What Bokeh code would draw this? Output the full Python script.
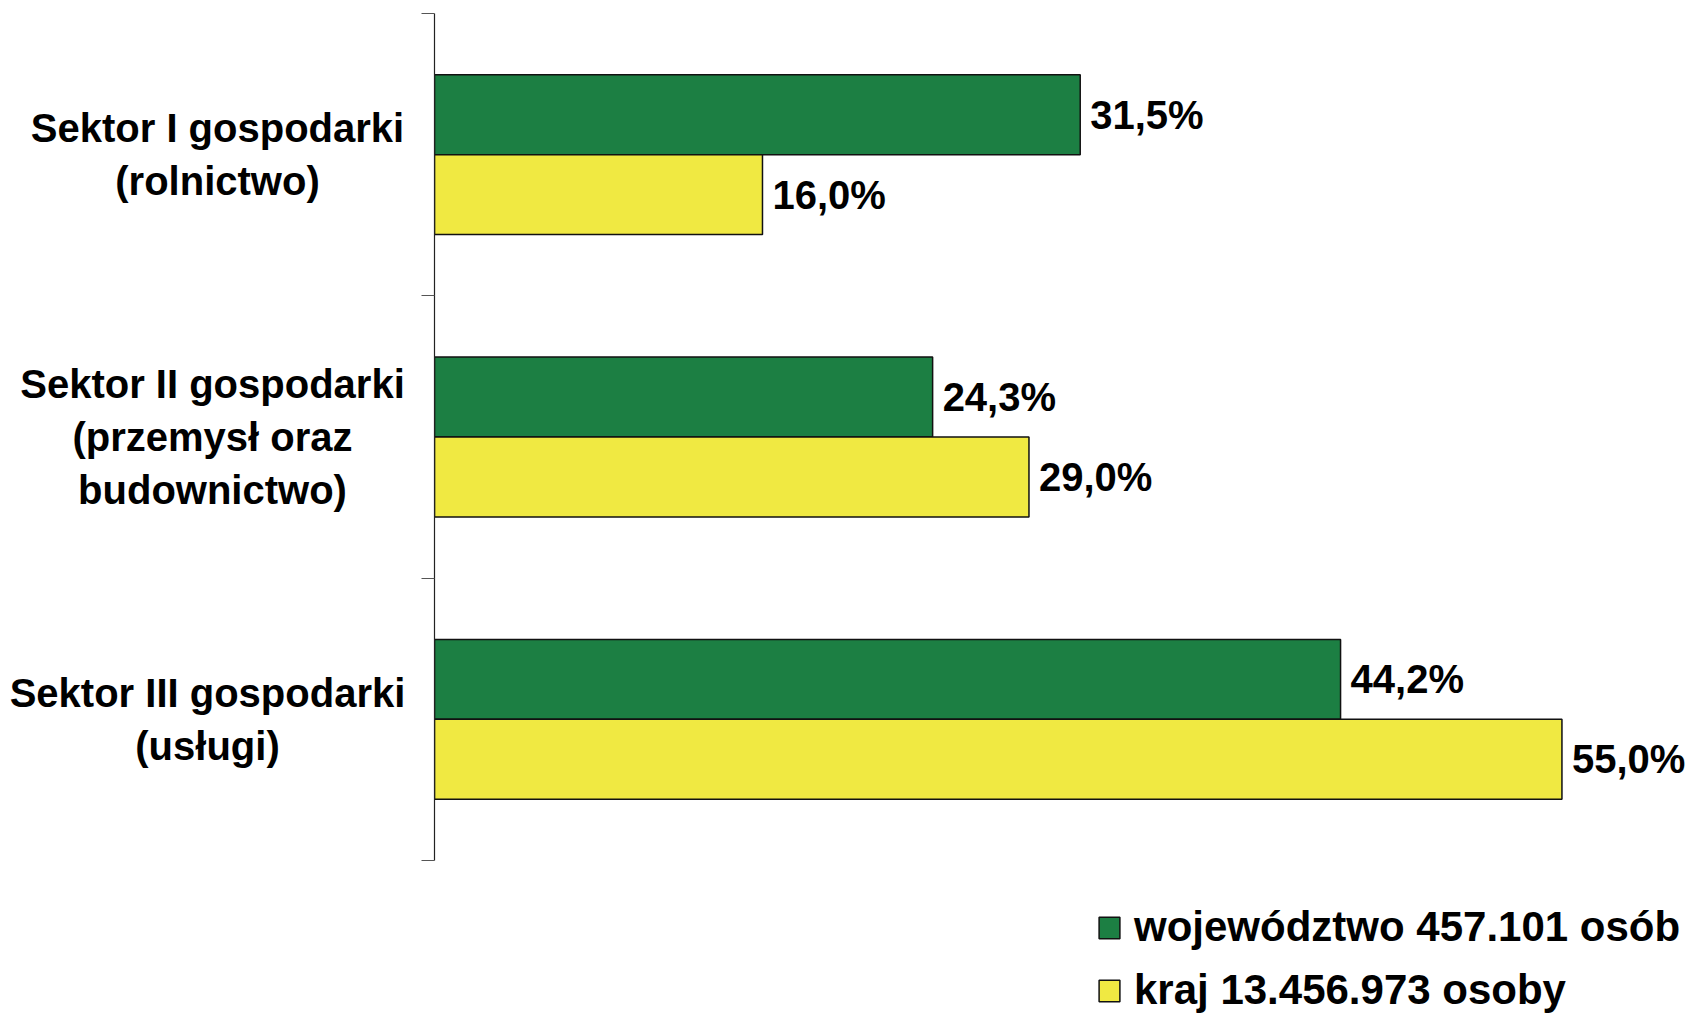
from bokeh.plotting import figure
from bokeh.layouts import row
from bokeh.models import (ColumnDataSource, Range1d, FixedTicker, Legend, LegendItem,
                          CustomJSTickFormatter)
from bokeh.transform import dodge
from bokeh.core.properties import value
from bokeh.embed import file_html
from bokeh.resources import INLINE

categories = ["Sektor I gospodarki\n(rolnictwo)",
              "Sektor II gospodarki\n(przemysł oraz\nbudownictwo)",
              "Sektor III gospodarki\n(usługi)"]
wojewodztwo = [31.5, 24.3, 44.2]
kraj = [16.0, 29.0, 55.0]
series_names = ["województwo 457.101 osób", "kraj 13.456.973 osoby"]

def fmt(v):
    return f"{v:.1f}".replace(".", ",") + "%"

FONT = "Liberation Sans"
GREEN = "#1c7f43"
YELLOW = "#f0e942"
W, H = 1691, 1013
LEFT_W = 420
AXIS_W = 14
TOP = 13
BAND_PX = 282.33
# horizontal centre of each label block (px within the label column)
LABEL_CX = [217, 212, 207]

n = len(categories)
ypos = [i + 0.5 for i in range(n)]
src = ColumnDataSource(dict(
    y=ypos,
    woj=wojewodztwo,
    kraj=kraj,
    woj_lbl=[fmt(v) for v in wojewodztwo],
    kraj_lbl=[fmt(v) for v in kraj],
))
cat_src = ColumnDataSource(dict(y=ypos, x=LABEL_CX, cat=categories))

# shared vertical range: category bands 0..n, extra space below for the legend
yr = Range1d((H - TOP) / BAND_PX, 0)

# category label column
lp = figure(width=LEFT_W, height=H, output_backend="svg", toolbar_location=None,
            x_range=Range1d(0, LEFT_W), y_range=yr, x_axis_location=None, y_axis_location=None,
            min_border_left=0, min_border_right=0, min_border_top=TOP, min_border_bottom=0)
lp.outline_line_color = None
lp.xgrid.visible = False
lp.ygrid.visible = False
lp.text(x="x", y="y", text="cat", source=cat_src, text_align="center",
        text_baseline="middle", text_font=value(FONT), text_font_style="bold",
        text_font_size="40px", text_line_height=1.21, text_color="black")

# main chart
p = figure(width=W - LEFT_W, height=H, output_backend="svg", toolbar_location=None,
           x_range=Range1d(0, 61.32), y_range=yr,
           x_axis_location=None, min_border_left=AXIS_W, min_border_right=0,
           min_border_top=TOP, min_border_bottom=0)
p.outline_line_color = None
p.xgrid.visible = False
p.ygrid.visible = False

bh = 0.283
r1 = p.hbar(y=dodge("y", -bh / 2), left=0, right="woj", height=bh, source=src,
            fill_color=GREEN, line_color="#111111", line_width=1.5)
r2 = p.hbar(y=dodge("y", bh / 2), left=0, right="kraj", height=bh, source=src,
            fill_color=YELLOW, line_color="#111111", line_width=1.5)

p.text(x="woj", y=dodge("y", -bh / 2), text="woj_lbl", source=src, x_offset=10,
       text_baseline="middle", text_align="left", text_font=value(FONT),
       text_font_style="bold", text_font_size="40px", text_color="black")
p.text(x="kraj", y=dodge("y", bh / 2), text="kraj_lbl", source=src, x_offset=10,
       text_baseline="middle", text_align="left", text_font=value(FONT),
       text_font_style="bold", text_font_size="40px", text_color="black")

ax = p.yaxis[0]
ax.bounds = (0, n)
ax.ticker = FixedTicker(ticks=list(range(n + 1)))
ax.formatter = CustomJSTickFormatter(code="return ''")
ax.major_label_standoff = 0
ax.major_tick_in = 0
ax.major_tick_out = 13
ax.minor_tick_in = 0
ax.minor_tick_out = 0
ax.major_tick_line_color = "#555555"
ax.axis_line_color = "#222222"
ax.axis_line_width = 1.2

legend = Legend(items=[LegendItem(label=series_names[0], renderers=[r1]),
                       LegendItem(label=series_names[1], renderers=[r2])],
                location=(662, -1), orientation="vertical",
                border_line_color=None, background_fill_alpha=0,
                padding=0, margin=0, spacing=15,
                glyph_width=26, glyph_height=27, label_height=48, label_standoff=12,
                label_text_font=FONT, label_text_font_style="bold",
                label_text_font_size="42px", label_text_color="black")
p.add_layout(legend, "center")

open("out.html", "w").write(file_html(row(lp, p), INLINE))
